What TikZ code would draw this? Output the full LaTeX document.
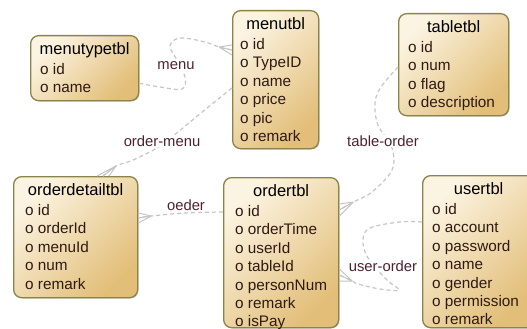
\documentclass[tikz,border=0pt]{standalone}
\usepackage{fontspec}
\setmainfont{Liberation Sans}
\usetikzlibrary{shadows,calc}
\definecolor{boxborder}{HTML}{8A8448}
\definecolor{boxlight}{HTML}{FCF4E2}
\definecolor{boxdark}{HTML}{E2BE78}
\definecolor{linkgray}{HTML}{C6C6C6}
\definecolor{fieldcol}{HTML}{2E1A12}
\definecolor{labelcol}{HTML}{4E2130}
\newcommand\dbtable[7]{%
  \node[tablebox, minimum width=#4pt, minimum height=#5pt] (#1) at (#2,#3) {};
  \node[titletext] (#1-title) at ($(#1.north)+(0,19.5)$) {#1};
  \foreach \f [count=\i] in {#7} {
    \node[fieldtext] (#1-\i) at ($(#1.north west)+(#6,39.5+18.4*\i-18.4)$) {o \f};
  }%
}
\newcommand\crowfoot[4]{%
  \draw[crowline] (#2) -- ($(#1)+(#3,#4)$) (#2) -- (#1) (#2) -- ($(#1)-(#3,#4)$);%
}
\begin{document}
\begin{tikzpicture}[x=1pt,y=-1pt,
  tablebox/.style={draw=boxborder, line width=1.3pt, rounded corners=8pt,
    top color=boxlight, bottom color=boxdark, shading angle=45,
    inner sep=0pt, anchor=north west,
    drop shadow={shadow xshift=0.9pt, shadow yshift=-0.9pt, fill=black!35, opacity=0.5}},
  titletext/.style={anchor=base, inner sep=0pt, font=\fontsize{16.5}{19}\selectfont, text=black},
  fieldtext/.style={anchor=base west, inner sep=0pt, font=\fontsize{15.3}{18}\selectfont, text=fieldcol},
  link/.style={draw=linkgray, line width=1.2pt, dash pattern=on 4pt off 3pt},
  crowline/.style={draw=linkgray, line width=1pt},
  linklabel/.style={fill=white, inner sep=1pt, font=\fontsize{14.8}{17}\selectfont, text=labelcol}]
\useasboundingbox (0,0) rectangle (527,329);
\fill[white] (0,0) rectangle (527,329);

% tables
\dbtable{menutypetbl}{30}{35}{108}{65}{10}{id,name}
\dbtable{menutbl}{232}{10}{86}{138}{8}{id,TypeID,name,price,pic,remark}
\dbtable{tabletbl}{398}{13}{110}{102}{10}{id,num,flag,description}
\dbtable{orderdetailtbl}{13}{176}{124}{121}{12}{id,orderId,menuId,num,remark}
\dbtable{ordertbl}{223}{177}{115}{150}{12}{id,orderTime,userId,tableId,personNum,remark,isPay}
\dbtable{usertbl}{422}{175}{112}{152}{10}{id,account,password,name,gender,permission,remark}

% connector end points
\coordinate (a1) at ($(menutypetbl.south east)+(0,-18)$);
\coordinate (b1) at ($(menutbl.north west)+(0,40)$);
\coordinate (v1) at ($(b1)+(-13,-3)$);
\coordinate (a2) at ($(menutbl.north west)+(0,78)$);
\coordinate (b2) at ($(orderdetailtbl.north west)+(90,0)$);
\coordinate (v2) at ($(b2)+(13,-10)$);
\coordinate (a3) at ($(ordertbl.north west)+(0,35)$);
\coordinate (b3) at ($(orderdetailtbl.north east)+(0,42)$);
\coordinate (v3) at ($(b3)+(13,-2)$);
\coordinate (a4) at ($(tabletbl.north west)+(0,54)$);
\coordinate (b4) at ($(ordertbl.north east)+(0,33)$);
\coordinate (v4) at ($(b4)+(14,-8)$);
\coordinate (a5) at ($(usertbl.north west)+(0,47)$);
\coordinate (b5) at ($(ordertbl.north east)+(0,98)$);
\coordinate (v5) at ($(b5)+(13,6)$);

% connectors
\draw[link] plot[smooth, tension=0.6] coordinates {(a1) (160,87) (182,89) (185,77) (177,60) (170,46) (180,38) (205,42) (v1) (b1)};
\draw[link] plot[smooth, tension=0.6] coordinates {(a2) (217,100) (190,122) (160,146) (133,160) (v2) (b2)};
\draw[link] plot[smooth, tension=0.6] coordinates {(a3) (185,213) (v3) (b3)};
\draw[link] plot[smooth, tension=0.6] coordinates {(a4) (381,87) (375,103) (378,125) (392,148) (392,170) (372,192) (v4) (b4)};
\draw[link] plot[smooth, tension=0.6] coordinates {(a5) (400,222) (370,228) (363,240) (368,258) (387,280) (399,290) (380,289) (358,284) (v5) (b5)};

\crowfoot{b1}{v1}{0}{5}
\crowfoot{b2}{v2}{6}{0}
\crowfoot{b3}{v3}{0}{5}
\crowfoot{b4}{v4}{0}{6}
\crowfoot{b5}{v5}{0}{6}

% labels
\node[linklabel] (lbl-menu) at (176,66) {menu};
\node[linklabel] (lbl-ordermenu) at (162,141) {order-menu};
\node[linklabel] (lbl-tableorder) at (383,141) {table-order};
\node[linklabel] (lbl-oeder) at (186,205) {oeder};
\node[linklabel] (lbl-userorder) at (383,266) {user-order};
\end{tikzpicture}
\end{document}
